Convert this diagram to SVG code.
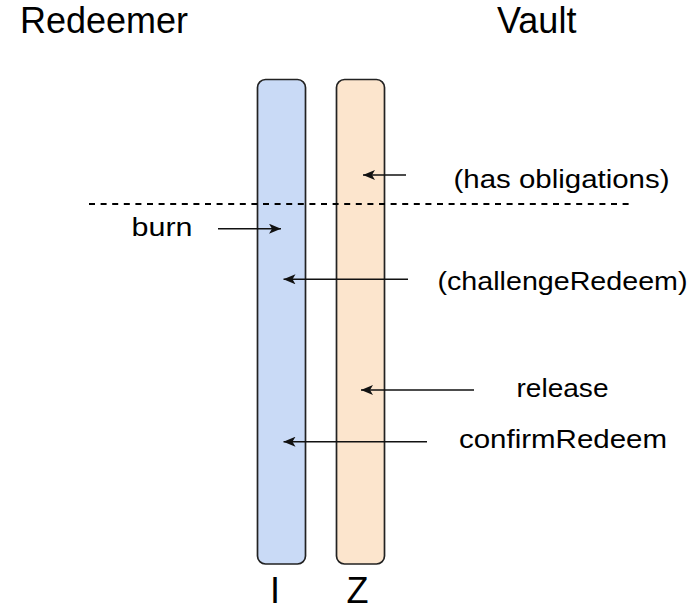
<svg xmlns="http://www.w3.org/2000/svg" width="700" height="609" viewBox="0 0 700 609">
<style>
text{font-family:"Liberation Sans",Arial,Helvetica,sans-serif;fill:#000}
.h{font-size:36px}
.l{font-size:25px}
.bar{stroke:#222;stroke-width:1.7}
.c{stroke:#111;stroke-width:1.5;fill:none;marker-end:url(#ah)}
</style>
<defs>
<marker id="ah" viewBox="0 0 12 10" refX="12" refY="5" markerWidth="12" markerHeight="10" markerUnits="userSpaceOnUse" orient="auto">
<path d="M0,0 L12,5 L0,10 L3,5 Z" fill="#111"/>
</marker>
</defs>
<rect width="700" height="609" fill="#fff"/>
<g id="header-redeemer"><text class="h" x="20" y="33">Redeemer</text></g>
<g id="header-vault"><text class="h" x="497" y="33">Vault</text></g>
<g id="lifeline-I">
<rect class="bar" x="257.5" y="79.5" width="48" height="484.5" rx="8" fill="#c9daf6"/>
<text class="h" x="270" y="603">I</text>
</g>
<g id="lifeline-Z">
<rect class="bar" x="336.5" y="79.5" width="48" height="484.5" rx="8" fill="#fce5cd"/>
<text class="h" x="346.5" y="603">Z</text>
</g>
<g id="divider">
<line x1="89" y1="204" x2="630" y2="204" stroke="#000" stroke-width="1.8" stroke-dasharray="6 5.6"/>
</g>
<g id="connectors">
<line class="c" x1="406" y1="175" x2="363" y2="175"/>
<line class="c" x1="218" y1="228.7" x2="281" y2="228.7"/>
<line class="c" x1="408" y1="279.3" x2="283.5" y2="279.3"/>
<line class="c" x1="474" y1="390" x2="361" y2="390"/>
<line class="c" x1="427" y1="441.7" x2="283.5" y2="441.7"/>
</g>
<g id="labels">
<text class="l" x="453.5" y="188" textLength="216" lengthAdjust="spacingAndGlyphs">(has obligations)</text>
<text class="l" x="131.5" y="236" textLength="61" lengthAdjust="spacingAndGlyphs">burn</text>
<text class="l" x="437.5" y="290" textLength="250" lengthAdjust="spacingAndGlyphs">(challengeRedeem)</text>
<text class="l" x="516.5" y="397" textLength="92" lengthAdjust="spacingAndGlyphs">release</text>
<text class="l" x="459" y="448" textLength="208" lengthAdjust="spacingAndGlyphs">confirmRedeem</text>
</g>
</svg>
